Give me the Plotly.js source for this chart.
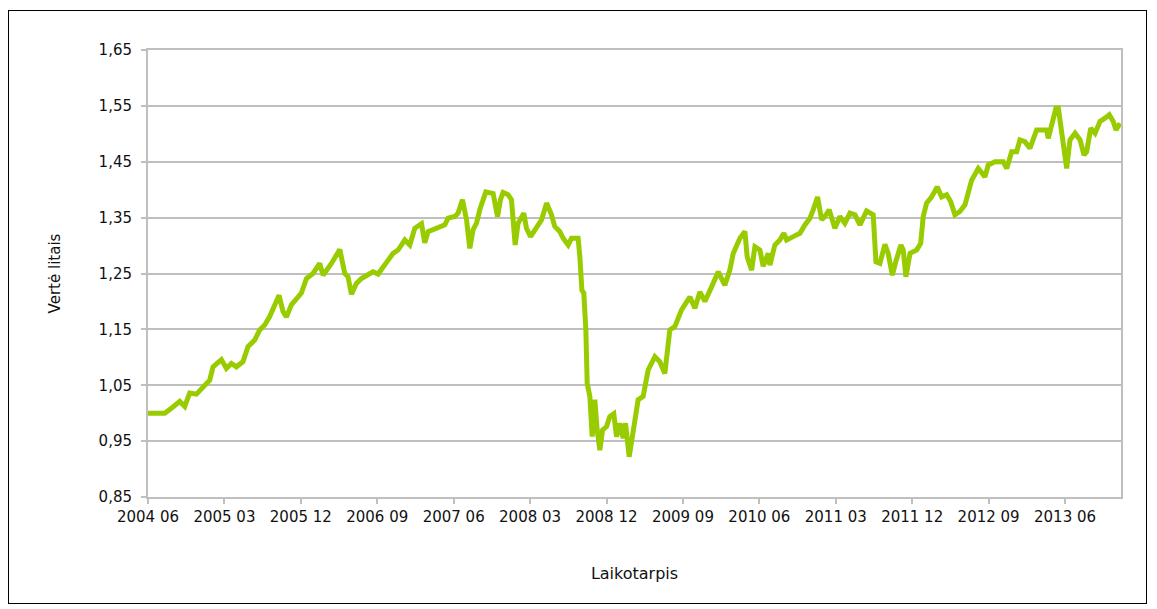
<!DOCTYPE html>
<html>
<head>
<meta charset="utf-8">
<script src="https://cdn.plot.ly/plotly-3.0.1.min.js"></script>
<style>
  html, body { margin: 0; padding: 0; background: #ffffff; }
  #frame { position: absolute; left: 8px; top: 10px; width: 1139px; height: 594px; border: 1px solid #000; box-sizing: border-box; pointer-events: none; z-index: 5; }
  #chart { position: absolute; left: 0; top: 0; width: 1157px; height: 609px; }
</style>
</head>
<body>
<div id="chart"></div>
<div id="frame"></div>
<script>
// Time (decimal years)
const years = [
  2004.417, 2004.581, 2004.646, 2004.728, 2004.777, 2004.826, 2004.892, 2005.022, 2005.055, 2005.137,
  2005.186, 2005.235, 2005.284, 2005.349, 2005.398, 2005.464, 2005.513, 2005.562, 2005.611, 2005.660,
  2005.703, 2005.742, 2005.775, 2005.824, 2005.873, 2005.922, 2005.972, 2006.036, 2006.102, 2006.135,
  2006.217, 2006.299, 2006.348, 2006.380, 2006.413, 2006.462, 2006.511, 2006.625, 2006.675, 2006.740,
  2006.822, 2006.871, 2006.937, 2006.986, 2007.035, 2007.101, 2007.133, 2007.166, 2007.248, 2007.330,
  2007.362, 2007.428, 2007.460, 2007.503, 2007.543, 2007.575, 2007.607, 2007.641, 2007.673, 2007.732,
  2007.804, 2007.847, 2007.876, 2007.902, 2007.951, 2007.984, 2008.020, 2008.049, 2008.105, 2008.131,
  2008.171, 2008.213, 2008.279, 2008.328, 2008.377, 2008.409, 2008.458, 2008.491, 2008.540, 2008.573,
  2008.638, 2008.655, 2008.675, 2008.694, 2008.714, 2008.727, 2008.753, 2008.776, 2008.802, 2008.825,
  2008.851, 2008.878, 2008.917, 2008.949, 2008.988, 2009.015, 2009.047, 2009.080, 2009.103, 2009.139,
  2009.178, 2009.227, 2009.276, 2009.325, 2009.391, 2009.440, 2009.489, 2009.538, 2009.587, 2009.653,
  2009.735, 2009.784, 2009.833, 2009.882, 2009.948, 2010.013, 2010.078, 2010.127, 2010.160, 2010.226,
  2010.275, 2010.297, 2010.341, 2010.373, 2010.422, 2010.454, 2010.504, 2010.520, 2010.569, 2010.618,
  2010.657, 2010.684, 2010.749, 2010.815, 2010.864, 2010.913, 2010.945, 2010.988, 2011.028, 2011.060,
  2011.102, 2011.158, 2011.207, 2011.256, 2011.306, 2011.355, 2011.404, 2011.469, 2011.534, 2011.561,
  2011.600, 2011.649, 2011.681, 2011.722, 2011.757, 2011.806, 2011.829, 2011.855, 2011.895, 2011.960,
  2012.000, 2012.025, 2012.058, 2012.108, 2012.162, 2012.206, 2012.255, 2012.294, 2012.336, 2012.385,
  2012.435, 2012.467, 2012.500, 2012.565, 2012.631, 2012.663, 2012.729, 2012.810, 2012.844, 2012.893,
  2012.942, 2012.974, 2013.023, 2013.072, 2013.138, 2013.187, 2013.236, 2013.252, 2013.286, 2013.328,
  2013.351, 2013.384, 2013.406, 2013.433, 2013.465, 2013.515, 2013.564, 2013.603, 2013.629, 2013.669,
  2013.711, 2013.760, 2013.809, 2013.851, 2013.890, 2013.917, 2013.957
];

// Value in litas
const values = [
  1.000, 1.000, 1.009, 1.021, 1.012, 1.036, 1.034, 1.059, 1.083, 1.096,
  1.080, 1.089, 1.083, 1.092, 1.119, 1.131, 1.149, 1.158, 1.173, 1.194,
  1.211, 1.182, 1.172, 1.194, 1.203, 1.215, 1.241, 1.250, 1.268, 1.247,
  1.268, 1.293, 1.250, 1.244, 1.213, 1.232, 1.241, 1.253, 1.249, 1.265,
  1.286, 1.292, 1.310, 1.301, 1.331, 1.339, 1.305, 1.325, 1.331, 1.337,
  1.349, 1.352, 1.358, 1.382, 1.346, 1.295, 1.328, 1.340, 1.364, 1.396,
  1.393, 1.352, 1.382, 1.395, 1.391, 1.382, 1.301, 1.340, 1.358, 1.331,
  1.316, 1.328, 1.346, 1.376, 1.355, 1.334, 1.325, 1.313, 1.301, 1.313,
  1.313, 1.280, 1.220, 1.215, 1.149, 1.053, 1.030, 0.958, 1.024, 0.970,
  0.934, 0.970, 0.976, 0.994, 0.999, 0.958, 0.982, 0.955, 0.982, 0.922,
  0.970, 1.024, 1.030, 1.077, 1.101, 1.092, 1.071, 1.149, 1.155, 1.185,
  1.208, 1.188, 1.217, 1.200, 1.226, 1.253, 1.229, 1.256, 1.286, 1.313,
  1.325, 1.280, 1.256, 1.298, 1.292, 1.263, 1.286, 1.265, 1.301, 1.310,
  1.322, 1.310, 1.316, 1.322, 1.337, 1.349, 1.364, 1.387, 1.346, 1.352,
  1.364, 1.331, 1.352, 1.340, 1.358, 1.355, 1.337, 1.362, 1.355, 1.271,
  1.268, 1.302, 1.286, 1.247, 1.272, 1.301, 1.292, 1.244, 1.286, 1.292,
  1.304, 1.352, 1.376, 1.387, 1.405, 1.387, 1.391, 1.379, 1.355, 1.361,
  1.373, 1.399, 1.417, 1.438, 1.423, 1.444, 1.450, 1.450, 1.438, 1.468,
  1.468, 1.489, 1.486, 1.474, 1.507, 1.507, 1.507, 1.492, 1.513, 1.546,
  1.546, 1.507, 1.471, 1.438, 1.489, 1.501, 1.489, 1.462, 1.468, 1.510,
  1.501, 1.522, 1.528, 1.534, 1.522, 1.507, 1.519
];

const tickLabels = ['2004 06', '2005 03', '2005 12', '2006 09', '2007 06', '2008 03', '2008 12',
                    '2009 09', '2010 06', '2011 03', '2011 12', '2012 09', '2013 06'];
const yTitle = 'Vertė litais';
const xTitle = 'Laikotarpis';

const tickVals = tickLabels.map(function (s) {
  const p = s.split(' ');
  return parseInt(p[0], 10) + (parseInt(p[1], 10) - 1) / 12;
});

const font = { family: 'DejaVu Sans, sans-serif', size: 15, color: '#111111' };

const trace = {
  x: years,
  y: values,
  type: 'scatter',
  mode: 'lines',
  line: { color: '#99cc00', width: 5 },
  hoverinfo: 'skip'
};

const layout = {
  width: 1157,
  height: 609,
  margin: { l: 148, r: 36, t: 50, b: 112 },
  paper_bgcolor: '#ffffff',
  plot_bgcolor: '#ffffff',
  separators: ', ',
  showlegend: false,
  font: font,
  xaxis: {
    range: [2004.4167, 2013.966],
    tickvals: tickVals,
    ticktext: tickLabels,
    ticks: 'outside',
    ticklen: 5,
    tickwidth: 2,
    tickcolor: '#bfbfbf',
    showgrid: false,
    zeroline: false,
    showline: true,
    linecolor: '#bfbfbf',
    linewidth: 2,
    mirror: true,
    tickfont: font,
    title: { text: xTitle, font: { family: 'DejaVu Sans, sans-serif', size: 16, color: '#111111' }, standoff: 43 }
  },
  yaxis: {
    range: [0.85, 1.65],
    tick0: 0.85,
    dtick: 0.1,
    tickformat: '.2f',
    ticks: 'outside',
    ticklen: 5,
    tickwidth: 2,
    tickcolor: '#bfbfbf',
    ticklabelstandoff: 6,
    showgrid: true,
    gridcolor: '#bfbfbf',
    gridwidth: 2,
    zeroline: false,
    showline: true,
    linecolor: '#bfbfbf',
    linewidth: 2,
    mirror: true,
    tickfont: font,
    title: { text: yTitle, font: { family: 'DejaVu Sans, sans-serif', size: 15, color: '#111111' }, standoff: 34 }
  }
};

Plotly.newPlot('chart', [trace], layout, { displayModeBar: false, staticPlot: true });
</script>
</body>
</html>
